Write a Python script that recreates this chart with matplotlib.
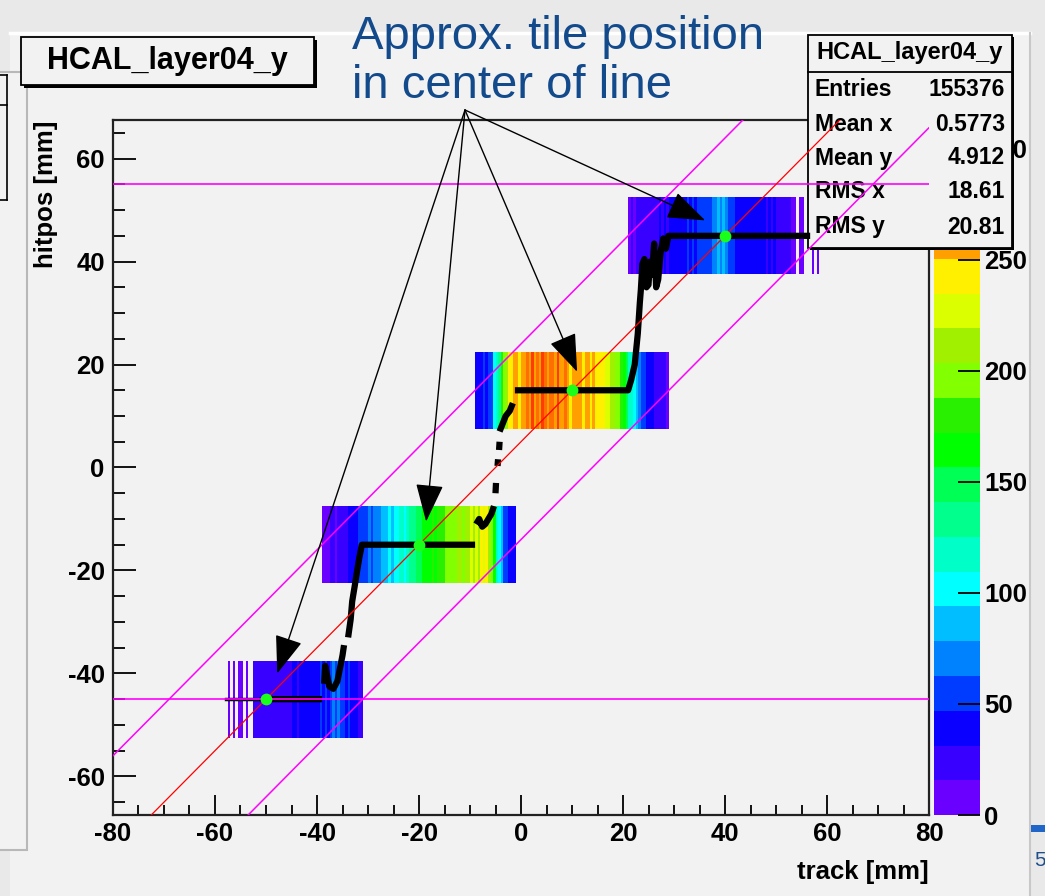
import numpy as np
import matplotlib.pyplot as plt
from matplotlib.colors import ListedColormap, BoundaryNorm
from matplotlib.patches import Rectangle
from matplotlib.lines import Line2D

plt.rcParams['font.family'] = ['Liberation Sans', 'DejaVu Sans']
plt.rcParams['font.weight'] = 'bold'
plt.rcParams['axes.unicode_minus'] = False

W, H = 1045, 896

# binning: 0.5 mm in track, 15 mm in hitpos (one row per tile)
x_edges = np.arange(-80, 80.01, 0.5)
y_edges = np.arange(-67.5, 67.51, 15)

# counts per 0.5 mm track bin, one list per tile row
tile1_y, tile1_x0 = -45, -58.0
tile1_counts = [0, 14, 0, 12, 0, 10, 13, 0, 12, 0, 0,
                20, 22, 18, 25, 20, 24, 22, 19, 26, 23,
                25, 28, 24, 30, 27, 33, 35, 30, 36, 34,
                38, 40, 36, 42, 45, 40, 48, 44, 50, 46,
                55, 70, 52, 66, 48, 58, 45, 52, 42, 40,
                35, 30, 28]
tile2_y, tile2_x0 = -15, -39.0
tile2_counts = [10, 14, 12, 16, 18, 15, 20, 22, 18, 25,
                35, 40, 38, 45, 50, 55, 48, 60, 65, 58,
                70, 75, 68, 85, 80, 90, 95, 88, 100, 105,
                110, 118, 105, 125, 130, 140, 135, 150, 145, 160,
                165, 158, 170, 175, 168, 180, 185, 178, 190, 195,
                188, 200, 195, 205, 210, 198, 215, 208, 220, 212,
                225, 218, 240, 230, 236, 215, 200, 160, 120, 100,
                85, 60, 50, 45, 40, 38]
tile3_y, tile3_x0 = 15, -9.0
tile3_counts = [40, 42, 45, 50, 38, 55, 60, 100, 110, 140,
                180, 200, 215, 235, 245, 255, 258, 245, 262, 252,
                275, 258, 290, 262, 278, 252, 286, 268, 255, 280,
                272, 255, 285, 262, 256, 275, 260, 248, 258, 252,
                255, 262, 246, 258, 252, 242, 255, 238, 248, 240,
                235, 228, 225, 215, 205, 198, 190, 180, 170, 150,
                120, 110, 100, 80, 70, 60, 50, 45, 40, 35,
                30, 28, 25, 22, 18, 15]
tile4_y, tile4_x0 = 45, 21.0
tile4_counts = [12, 18, 15, 20, 22, 25, 20, 28, 24, 26,
                30, 27, 32, 28, 35, 30, 33, 38, 36, 40,
                42, 45, 40, 48, 44, 50, 46, 52, 48, 55,
                50, 58, 62, 75, 68, 85, 72, 80, 65, 60,
                52, 48, 45, 42, 46, 40, 38, 44, 36, 40,
                35, 38, 32, 36, 30, 34, 28, 32, 26, 30,
                25, 22, 18, 16, 14, 12, 0, 13, 10, 0,
                0, 0, 11, 0, 9, 0]

# mean hitpos per track bin (profile), NaN breaks where no entries
prof_x = [-50.2, -39.0, np.nan,
          -38.6, -38.4, -38.0, -37.6, -36.8, -36.0, -35.5, -35.0, -34.7, np.nan,
          -33.9, -33.4, -33.1, -32.6, -32.2, -31.7, -31.2, -9.0, np.nan,
          -8.8, -8.2, -7.6, -7.0, -6.4, -5.8, -5.3, np.nan,
          -5.0, -4.9, np.nan, -4.6, -4.5, np.nan, -4.3, -4.2, np.nan,
          -4.2, -3.6, -3.0, -2.2, -1.6, np.nan,
          -1.2, 21.0, 21.6, 22.3, 22.6, 22.9, 23.1, 23.3, 23.5, 23.8, 24.2,
          24.6, 25.0, 25.3, 25.7, 26.1, 26.5, 26.9, 27.4, 27.9, 28.4, 28.9, 56.7]
prof_y = [-45, -45, np.nan,
          -42, -38.5, -40.5, -42.5, -43, -41.5, -39, -36.5, -34.5, np.nan,
          -33, -29.5, -26, -23, -20.5, -17.5, -15, -15, np.nan,
          -11, -10, -11.5, -11, -10, -9, -7.5, np.nan,
          -5, -3, np.nan, 0.3, 1.6, np.nan, 3.4, 5, np.nan,
          7, 8.5, 10, 11, 12.5, np.nan,
          15, 15, 17, 20, 23, 26, 29, 32, 34.5, 39.5, 40.5,
          35, 35.5, 40, 37.5, 43.5, 35, 36.5, 42, 44.5, 42.5, 45, 45]
thin_x = [-57.8, -50.2]
thin_y = [-45, -45]

# tile positions (centre of line) and fitted lines
tile_x = [-50, -20, 10, 40]
tile_y = [-45, -15, 15, 45]
fit_offset = 5
band_offsets = [24, -14]
cut_levels = [55, -45]
arrow_tips = [(-47.8, -40.0), (-18.6, -10.5), (11.0, 18.6), (36.1, 48.0)]

stats_rows = [('Entries', '155376'), ('Mean x', '0.5773'), ('Mean y', '4.912'),
              ('RMS x', '18.61'), ('RMS y', '20.81')]

palette = ['#6a00ff', '#3800ff', '#0a00ff', '#003cff', '#0082ff', '#00beff',
           '#00ffff', '#00ffc8', '#00ff8c', '#00ff55', '#00ff00', '#28f000',
           '#82ff00', '#a0f000', '#dcff00', '#fff000', '#ffa000', '#ff6e00',
           '#ff3c00', '#ff0000']
zmax = 313.0


def fx(x):
    return x / W


def fy(y):
    return 1 - y / H


counts = np.zeros((len(y_edges) - 1, len(x_edges) - 1))
for yc, x0, c in [(tile1_y, tile1_x0, tile1_counts), (tile2_y, tile2_x0, tile2_counts),
                  (tile3_y, tile3_x0, tile3_counts), (tile4_y, tile4_x0, tile4_counts)]:
    row = np.searchsorted(y_edges, yc) - 1
    col = int(round((x0 - x_edges[0]) / 0.5))
    counts[row, col:col + len(c)] = c
counts = np.ma.masked_equal(counts, 0)

fig = plt.figure(figsize=(W / 100, H / 100), dpi=100, facecolor='#e9e9e9')

# canvas and the panel peeking out on the left
fig.add_artist(Rectangle((fx(10), fy(896)), fx(1020), 863 / H, transform=fig.transFigure,
                         fc='#f2f2f2', ec='none', zorder=-5))
fig.add_artist(Line2D([fx(10), fx(1030)], [fy(33), fy(33)], transform=fig.transFigure,
                      color='white', lw=2.5, zorder=-4))
fig.add_artist(Line2D([fx(1030), fx(1030)], [fy(33), fy(896)], transform=fig.transFigure,
                      color='#c8c8c8', lw=1.5, zorder=-4))
fig.add_artist(Rectangle((fx(-3), fy(850)), fx(30), 778 / H, transform=fig.transFigure,
                         fc='#f2f2f2', ec='#b8b8b8', lw=1.5, zorder=-3))
for xs, ys in [([-3, 7], [75, 75]), ([-3, 7], [105, 105]), ([-3, 7], [200, 200]), ([7, 7], [75, 200])]:
    fig.add_artist(Line2D([fx(v) for v in xs], [fy(v) for v in ys], transform=fig.transFigure,
                          color='black', lw=1.2, zorder=-2))
fig.add_artist(Rectangle((fx(1031), fy(832)), fx(20), 7 / H, transform=fig.transFigure,
                         fc='#1f66c8', ec='none', zorder=-2))
fig.text(fx(1034), fy(860), '5', color='#1f4e8c', fontsize=15, fontweight='normal',
         ha='left', va='center')

ax = fig.add_axes([fx(113), fy(815), 816 / W, 695 / H])
cax = fig.add_axes([fx(934), fy(815), 46 / W, 695 / H])
cax.set_zorder(-1)
ax.set_facecolor('#f2f2f2')

cmap = ListedColormap(palette)
norm = BoundaryNorm(np.linspace(0, zmax, len(palette) + 1), len(palette))
mesh = ax.pcolormesh(x_edges, y_edges, counts, cmap=cmap, norm=norm, zorder=1)

cb = fig.colorbar(mesh, cax=cax, ticks=np.arange(0, 301, 50))
cb.outline.set_visible(False)
cax.yaxis.set_ticks_position('right')
cax.tick_params(direction='in', length=16, width=1.3, labelsize=18.5, pad=3)
cax.minorticks_off()

ax.plot(thin_x, thin_y, color='black', lw=2.5, zorder=2.8)
ax.plot(prof_x, prof_y, color='black', lw=4.5, solid_capstyle='butt', zorder=2.8)
for off in band_offsets:
    ax.axline((0, off), slope=1, color='#ff00ff', lw=1.1, zorder=3)
for lev in cut_levels:
    ax.axhline(lev, color='#ff00ff', lw=1.2, zorder=3)
ax.axline((0, fit_offset), slope=1, color='red', lw=0.9, zorder=3.1)
ax.plot(tile_x, tile_y, 'o', color='#1aff1a', ms=8.5, mec='none', zorder=4)

ax.set_xlim(-80, 80)
ax.set_ylim(-67.5, 67.5)
ax.set_xticks(np.arange(-80, 81, 20))
ax.set_xticks(np.arange(-80, 81, 5), minor=True)
ax.set_yticks(np.arange(-60, 61, 20))
ax.set_yticks(np.arange(-65, 66, 5), minor=True)
ax.tick_params(axis='x', which='major', direction='in', length=14.5, width=1.3, labelsize=18.5, pad=5)
ax.tick_params(axis='x', which='minor', direction='in', length=7.2, width=1.3)
ax.tick_params(axis='y', which='major', direction='in', length=16.5, width=1.3, labelsize=18.5, pad=6)
ax.tick_params(axis='y', which='minor', direction='in', length=8.6, width=1.3)
for sp in ax.spines.values():
    sp.set_linewidth(1.6)
    sp.set_color('#222222')

fig.text(fx(929), fy(872), 'track [mm]', fontsize=18.5, ha='right', va='center')
fig.text(fx(46), fy(120), 'hitpos [mm]', fontsize=18.5, rotation=90, ha='center', va='top')

# title box
fig.add_artist(Rectangle((fx(24), fy(88)), 293 / W, 48 / H, transform=fig.transFigure,
                         fc='black', ec='none', zorder=1))
fig.add_artist(Rectangle((fx(21), fy(85)), 293 / W, 48 / H, transform=fig.transFigure,
                         fc='#f2f2f2', ec='black', lw=1.3, zorder=1.1))
fig.text(fx(167), fy(61), 'HCAL_layer04_y', fontsize=22, ha='center', va='center', zorder=1.2)

# statistics box
ax.add_patch(Rectangle((fx(810), fy(250)), 204 / W, 213 / H, transform=fig.transFigure,
                       fc='black', ec='none', clip_on=False, zorder=2.55))
ax.add_patch(Rectangle((fx(808), fy(248)), 204 / W, 213 / H, transform=fig.transFigure,
                       fc='#f2f2f2', ec='black', lw=1.3, clip_on=False, zorder=2.6))
ax.add_line(Line2D([fx(808), fx(1012)], [fy(72), fy(72)], transform=fig.transFigure,
                   color='black', lw=1.3, clip_on=False, zorder=2.65))
ax.text(fx(910), fy(53), 'HCAL_layer04_y', transform=fig.transFigure, fontsize=17,
        ha='center', va='center', clip_on=False, zorder=2.7)
for (name, val), yy in zip(stats_rows, [89, 124, 158, 192, 227]):
    ax.text(fx(815), fy(yy), name, transform=fig.transFigure, fontsize=16.5,
            ha='left', va='center', clip_on=False, zorder=2.7)
    ax.text(fx(1005), fy(yy), val, transform=fig.transFigure, fontsize=16.5,
            ha='right', va='center', clip_on=False, zorder=2.7)

# annotation
fig.text(fx(352), fy(49), 'Approx. tile position', color='#124a8c', fontsize=34,
         fontweight='normal', ha='left', va='baseline')
fig.text(fx(352), fy(98), 'in center of line', color='#124a8c', fontsize=34,
         fontweight='normal', ha='left', va='baseline')
for tip in arrow_tips:
    ax.annotate('', xy=tip, xycoords='data', xytext=(465, H - 110), textcoords='figure pixels',
                arrowprops=dict(arrowstyle='-|>,head_length=0.6,head_width=0.22', mutation_scale=40,
                                lw=1.0, color='black', shrinkA=0, shrinkB=0),
                annotation_clip=False, zorder=6)

fig.savefig('out.png', dpi=100, facecolor=fig.get_facecolor())
